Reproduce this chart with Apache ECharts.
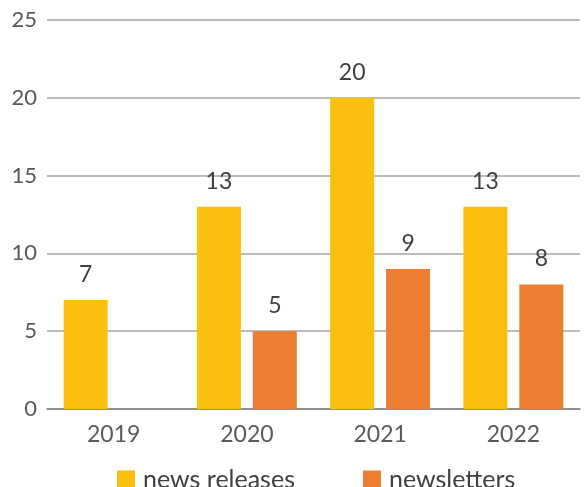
<!DOCTYPE html>
<html>
<head>
  <meta charset="utf-8">
</head>
<body style="margin: 0; width: 586px; height: 487px;">
  <div id="container" style="width: 586px; height: 487px;"></div>
  <script src="https://cdn.jsdelivr.net/npm/echarts@6/dist/echarts.min.js"></script>
  <script>
    var years = ['2019', '2020', '2021', '2022'];
    var newsReleases = [7, 13, 20, 13];
    var newsletters = [null, 5, 9, 8];
    var yTicks = { min: 0, max: 25, interval: 5 };

    var chart = echarts.init(document.getElementById('container'), null, { renderer: 'canvas' });
    var font = 'Lato, "Open Sans", sans-serif';

    var labelStyle = {
      show: true,
      position: 'top',
      distance: 14,
      color: '#404040',
      fontSize: 23,
      fontFamily: font
    };

    chart.setOption({
      animation: false,
      grid: { left: 47, right: 6, top: 20, bottom: 78 },
      legend: {
        top: 462,
        left: 112,
        icon: 'rect',
        itemWidth: 18,
        itemHeight: 18,
        itemGap: 68,
        textStyle: { fontSize: 25, color: '#404040', fontFamily: font, padding: [0, 0, 0, 3] },
        data: ['news releases', 'newsletters']
      },
      xAxis: {
        type: 'category',
        data: years,
        axisTick: { show: false },
        axisLine: { lineStyle: { color: '#7f7f7f', width: 1.5 } },
        axisLabel: { color: '#595959', fontSize: 23, fontFamily: font, margin: 14 }
      },
      yAxis: {
        type: 'value',
        min: yTicks.min,
        max: yTicks.max,
        interval: yTicks.interval,
        axisLabel: { color: '#595959', fontSize: 22, fontFamily: font, margin: 10 },
        splitLine: { lineStyle: { color: '#a6a6a6', width: 1.5 } }
      },
      series: [{
        name: 'news releases',
        type: 'bar',
        data: newsReleases,
        barWidth: 44,
        barGap: '27%',
        itemStyle: { color: '#FBBF10' },
        label: labelStyle
      }, {
        name: 'newsletters',
        type: 'bar',
        data: newsletters,
        barWidth: 44,
        itemStyle: { color: '#ED7D31' },
        label: labelStyle
      }]
    });
  </script>
</body>
</html>
